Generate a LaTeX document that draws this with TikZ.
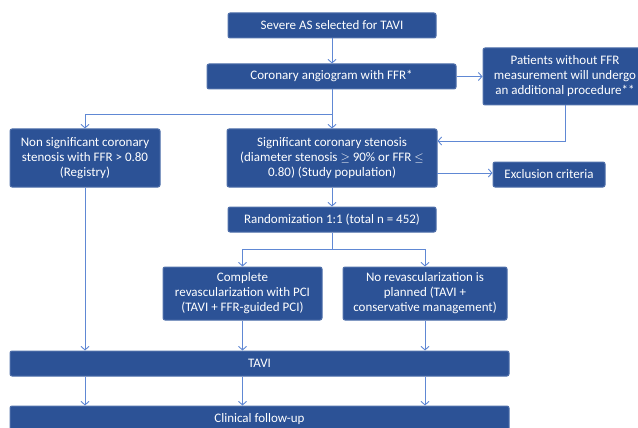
\documentclass[tikz,border=0pt]{standalone}
\usepackage{fontspec}
\setmainfont{Carlito}
\usetikzlibrary{arrows.meta}
\definecolor{boxfill}{RGB}{44,82,150}
\definecolor{boxedge}{RGB}{80,112,170}
\definecolor{linecol}{RGB}{96,136,212}
\tikzset{
  box/.style={draw=boxedge, line width=1pt, fill=boxfill, text=white, rounded corners=2pt,
    inner sep=0pt, align=center, font=\fontsize{13}{15}\selectfont},
  conn/.style={draw=linecol, line width=1pt},
  arr/.style={conn, -{Straight Barb[length=3.5pt,width=8pt,line width=0.9pt]}}
}
\begin{document}
\begin{tikzpicture}[x=1pt,y=-1pt]
\useasboundingbox (0,0) rectangle (638,428);
\begin{scope}
\clip (0,0) rectangle (638,428);
\node[box, minimum width=208pt, minimum height=25pt] (b1) at (332,25.5) {Severe AS selected for TAVI};
\node[box, minimum width=249pt, minimum height=25pt] (b2) at (331.5,76.5) {Coronary angiogram with FFR*};
\node[box, minimum width=164pt, minimum height=57pt] (b3) at (565,76.5) {Patients without FFR\\measurement will undergo\\an additional procedure**};
\node[box, minimum width=150pt, minimum height=58pt] (ns) at (85,158) {Non significant coronary\\stenosis with FFR > 0.80\\(Registry)};
\node[box, minimum width=210pt, minimum height=58pt] (sig) at (332,158) {Significant coronary stenosis\\(diameter stenosis \(\geq\) 90\% or FFR \(\leq\)\\0.80) (Study population)};
\node[box, minimum width=112pt, minimum height=25pt] (excl) at (549,174.5) {Exclusion criteria};
\node[box, minimum width=208pt, minimum height=25pt] (rand) at (332,219.5) {Randomization 1:1 (total n = 452)};
\node[box, minimum width=159pt, minimum height=53pt] (comp) at (242.5,293.5) {Complete\\revascularization with PCI\\(TAVI + FFR-guided PCI)};
\node[box, minimum width=164pt, minimum height=53pt] (norev) at (425,293.5) {No revascularization is\\planned (TAVI +\\conservative management)};
\node[box, minimum width=499pt, minimum height=25pt] (tavi) at (259.5,363.5) {TAVI};
\node[box, minimum width=499pt, minimum height=26pt] (fu) at (259.5,419) {Clinical follow-up};

\coordinate (s1) at (332,115);
\coordinate (s2) at (565,141);
\coordinate (s3) at (332,249);
\coordinate (xa) at (437,173);

\draw[arr] (b1.south) -- (b1.south |- b2.north);
\draw[arr] (b2.east) -- (b3.west);
\draw[conn] (b1.south |- b2.south) -- (s1);
\draw[arr] (s1) -| (ns.north);
\draw[arr] (s1) -- (s1 |- sig.north);
\draw[arr] (b3.south) |- (s2) -- (sig.east |- s2);
\draw[arr] (xa) -- (excl.west |- xa);
\draw[arr] (s1 |- sig.south) -- (s1 |- rand.north);
\draw[conn] (s1 |- rand.south) -- (s3);
\draw[arr] (s3) -| (comp.north);
\draw[arr] (s3) -| (norev.north);
\draw[arr] (ns.south) -- (ns.south |- tavi.north);
\draw[arr] (comp.south) -- (comp.south |- tavi.north);
\draw[arr] (norev.south) -- (norev.south |- tavi.north);
\draw[arr] (ns.south |- tavi.south) -- (ns.south |- fu.north);
\draw[arr] (comp.south |- tavi.south) -- (comp.south |- fu.north);
\draw[arr] (norev.south |- tavi.south) -- (norev.south |- fu.north);
\end{scope}
\end{tikzpicture}
\end{document}
